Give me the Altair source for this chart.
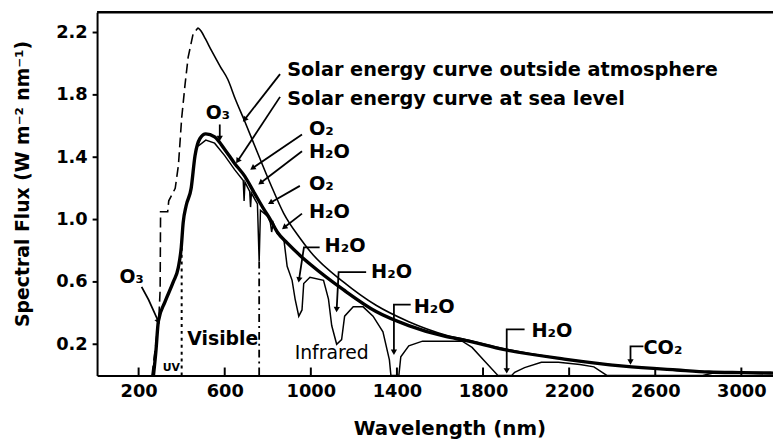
import altair as alt
import pandas as pd

FONT = "DejaVu Sans"
W, H = 683, 367
X_DOMAIN = [7, 3147]
Y_DOMAIN = [0, 2.33]

x_ticks = [200, 600, 1000, 1400, 1800, 2200, 2600, 3000]
y_ticks = [0.2, 0.6, 1.0, 1.4, 1.8, 2.2]

# Solar curve outside atmosphere: ultraviolet (dashed) part
out_uv_wl = [262, 280, 295, 300, 302, 335, 340, 370, 385, 400, 416, 430, 453, 476]
out_uv_val = [0.0, 0.20, 0.40, 0.55, 1.05, 1.05, 1.12, 1.20, 1.35, 1.65, 1.87, 2.04, 2.19, 2.23]

# Solar curve outside atmosphere: solid part
out_wl = [476, 490, 510, 540, 580, 614, 650, 690, 752, 812, 874, 950, 1000, 1151, 1303,
          1455, 1625, 1717, 1900, 2177, 2453, 2700, 2850, 3000, 3150]
out_val = [2.23, 2.21, 2.16, 2.08, 1.98, 1.90, 1.77, 1.64, 1.43, 1.23, 1.04, 0.88, 0.79, 0.60, 0.45,
           0.345, 0.26, 0.23, 0.17, 0.105, 0.06, 0.035, 0.022, 0.018, 0.015]

# Solar curve at sea level (thick envelope)
sea_wl = [269, 280, 292, 322, 361, 384, 398, 407, 421, 444, 462, 485, 512, 553, 600, 646, 692,
          738, 780, 812, 844, 890, 950, 1000, 1151, 1303, 1455, 1625, 1717, 1900, 2177, 2453,
          2700, 2850, 3000, 3150]
sea_val = [0.0, 0.15, 0.35, 0.47, 0.60, 0.69, 0.82, 0.98, 1.09, 1.20, 1.41, 1.52, 1.55, 1.53, 1.45,
           1.36, 1.28, 1.17, 1.07, 1.00, 0.92, 0.85, 0.77, 0.71, 0.55, 0.41, 0.32, 0.25, 0.225,
           0.165, 0.105, 0.06, 0.035, 0.022, 0.018, 0.015]

# Sea level curve with absorption bands (thin)
abs_wl = [476, 512, 553, 600, 646, 686, 690, 694, 716, 720, 724, 752, 760, 766, 800, 812, 818,
          825, 844, 875, 890, 913, 927, 944, 959, 967, 996, 1059, 1082, 1097, 1120, 1143, 1157,
          1197, 1243, 1289, 1335, 1365, 1372, 1409, 1418, 1455, 1519, 1600, 1703, 1749, 1809,
          1869, 1933, 1947, 1993, 2071, 2150, 2250, 2315, 2375, 2820, 2870, 3000, 3150]
abs_val = [1.47, 1.51, 1.49, 1.41, 1.32, 1.25, 1.12, 1.24, 1.18, 1.08, 1.17, 1.10, 0.73, 1.06,
           1.02, 0.98, 0.92, 0.98, 0.91, 0.87, 0.70, 0.61, 0.49, 0.38, 0.42, 0.59, 0.63, 0.61,
           0.49, 0.32, 0.20, 0.23, 0.38, 0.44, 0.44, 0.38, 0.28, 0.10, 0.0, 0.0, 0.12, 0.19,
           0.22, 0.22, 0.22, 0.18, 0.09, 0.0, 0.0, 0.02, 0.05, 0.085, 0.085, 0.07, 0.055, 0.0,
           0.0, 0.015, 0.015, 0.012]

# Region boundaries (UV / visible / infrared)
bound_wl = [400, 760]
bound_top = [0.82, 0.73]

# Text labels
left_labels = ["Solar energy curve outside atmosphere", "Solar energy curve at sea level",
               "O₂", "H₂O", "O₂", "H₂O", "H₂O", "H₂O", "H₂O", "H₂O", "CO₂"]
left_wl = [890, 890, 991, 991, 991, 991, 1064, 1280, 1478, 2025, 2545]
left_val = [1.958, 1.775, 1.578, 1.432, 1.229, 1.051, 0.829, 0.663, 0.441, 0.283, 0.175]

center_labels = ["O₃", "O₃", "Visible"]
center_wl = [568, 168, 591]
center_val = [1.686, 0.632, 0.232]

# Leader lines: id, wavelength, value
lead_id = [1, 1, 2, 2, 3, 3, 4, 4, 5, 5, 6, 6, 7, 7, 8, 8, 8, 9, 9, 9, 10, 10, 10,
           11, 11, 11, 12, 12, 12, 13, 13, 13]
lead_wl = [857, 692, 857, 660, 577, 577, 959, 729, 959, 766, 949, 812, 959, 876,
           1041, 968, 945, 1257, 1129, 1120, 1464, 1386, 1386, 1993, 1910, 1910,
           2545, 2485, 2485, 214, 246, 292]
lead_val = [1.933, 1.641, 1.787, 1.375, 1.610, 1.521, 1.546, 1.330, 1.438, 1.235, 1.216, 1.108,
            1.038, 0.949, 0.822, 0.822, 0.613, 0.663, 0.663, 0.422, 0.454, 0.454, 0.149,
            0.295, 0.295, 0.029, 0.187, 0.187, 0.086, 0.568, 0.486, 0.346]
arrow_angle = [38, 33, 0, 56, 53, 60, 52, 9, 3, 0, 0, 0, 336]


def xenc():
    return alt.X("wl:Q", title="Wavelength (nm)",
                 scale=alt.Scale(domain=X_DOMAIN, nice=False, zero=False),
                 axis=alt.Axis(values=x_ticks, format="d", ticks=False, labelPadding=7,
                               labelFont=FONT, labelFontSize=18, labelFontWeight="bold",
                               labelColor="black", labelFlush=False,
                               titleFont=FONT, titleFontSize=20, titleFontWeight="bold",
                               titleColor="black", titleX=356, titleY=60,
                               titleAlign="center", titleBaseline="alphabetic",
                               domainColor="black", domainWidth=2, grid=False))


def yenc():
    return alt.Y("v:Q", title="Spectral Flux (W m⁻² nm⁻¹)",
                 scale=alt.Scale(domain=Y_DOMAIN, nice=False, zero=False),
                 axis=alt.Axis(values=y_ticks, format=".1f", tickSize=5, tickWidth=2,
                               tickColor="black", labelPadding=5,
                               labelFont=FONT, labelFontSize=18, labelFontWeight="bold",
                               labelColor="black", labelFlush=False,
                               titleFont=FONT, titleFontSize=19, titleFontWeight="bold",
                               titleColor="black", titleAngle=270, titleX=-75, titleY=173,
                               titleAlign="center", titleBaseline="middle",
                               domainColor="black", domainWidth=2, grid=False))


def line_df(wl, val):
    return pd.DataFrame({"wl": wl, "v": val, "o": list(range(len(wl)))})


out_uv = alt.Chart(line_df(out_uv_wl, out_uv_val)).mark_line(
    color="black", strokeWidth=1.6, strokeDash=[10, 5], clip=True
).encode(x=xenc(), y=yenc(), order="o:Q")

out_main = alt.Chart(line_df(out_wl, out_val)).mark_line(
    color="black", strokeWidth=1.6, clip=True, interpolate="monotone"
).encode(x=xenc(), y=yenc(), order="o:Q")

sea = alt.Chart(line_df(sea_wl, sea_val)).mark_line(
    color="black", strokeWidth=3.4, clip=True, interpolate="monotone"
).encode(x=xenc(), y=yenc(), order="o:Q")

absorb = alt.Chart(line_df(abs_wl, abs_val)).mark_line(
    color="black", strokeWidth=1.5, clip=True
).encode(x=xenc(), y=yenc(), order="o:Q")

bdf = pd.DataFrame({"wl": bound_wl, "v": [0, 0], "v2": bound_top})
bound_vis = alt.Chart(bdf.iloc[[0]]).mark_rule(
    color="black", strokeWidth=2, strokeDash=[3, 4]
).encode(x=xenc(), y=yenc(), y2="v2:Q")
bound_ir = alt.Chart(bdf.iloc[[1]]).mark_rule(
    color="black", strokeWidth=1.8, strokeDash=[8, 4, 2, 4]
).encode(x=xenc(), y=yenc(), y2="v2:Q")

ldf = pd.DataFrame({"id": lead_id, "wl": lead_wl, "v": lead_val, "o": list(range(len(lead_id)))})
leaders = alt.Chart(ldf).mark_line(color="black", strokeWidth=1.8).encode(
    x=xenc(), y=yenc(), detail="id:N", order="o:Q")

ends = ldf.groupby("id").tail(1).reset_index(drop=True)
ends["ang"] = arrow_angle
heads = alt.Chart(ends).mark_point(
    shape="triangle-down", filled=True, color="black", size=40, opacity=1
).encode(x=xenc(), y=yenc(), angle=alt.Angle("ang:Q", scale=None))

tl = pd.DataFrame({"wl": left_wl, "v": left_val, "t": left_labels})
text_left = alt.Chart(tl).mark_text(
    font=FONT, fontSize=19.5, fontWeight="bold", align="left", baseline="middle", color="black"
).encode(x=xenc(), y=yenc(), text="t:N")

tc = pd.DataFrame({"wl": center_wl, "v": center_val, "t": center_labels})
text_center = alt.Chart(tc).mark_text(
    font=FONT, fontSize=19, fontWeight="bold", align="center", baseline="middle", color="black"
).encode(x=xenc(), y=yenc(), text="t:N")

t_ir = alt.Chart(pd.DataFrame({"wl": [1097], "v": [0.143], "t": ["Infrared"]})).mark_text(
    font=FONT, fontSize=19, align="center", baseline="middle", color="black"
).encode(x=xenc(), y=yenc(), text="t:N")

t_uv = alt.Chart(pd.DataFrame({"wl": [352], "v": [0.048], "t": ["UV"]})).mark_text(
    font=FONT, fontSize=11, fontWeight="bold", align="center", baseline="middle", color="black"
).encode(x=xenc(), y=yenc(), text="t:N")

tick_rules = alt.Chart(pd.DataFrame({"wl": x_ticks})).mark_rule(
    color="black", strokeWidth=2
).encode(x=xenc(), y=alt.value(H), y2=alt.value(H - 8))

top_frame = alt.Chart(pd.DataFrame({"a": [0]})).mark_rule(
    color="black", strokeWidth=2.5
).encode(x=alt.value(0), x2=alt.value(W), y=alt.value(0))

chart = alt.layer(
    bound_vis, bound_ir, out_uv, out_main, absorb, sea, leaders, heads,
    text_left, text_center, t_ir, t_uv, tick_rules, top_frame
).properties(
    width=W, height=H,
    padding={"left": 90, "top": 2, "right": 0, "bottom": 66},
    autosize=alt.AutoSizeParams(type="none"),
    background="white",
).configure_view(stroke=None)

chart.save("out.html", embed_options={"renderer": "svg", "actions": False})
